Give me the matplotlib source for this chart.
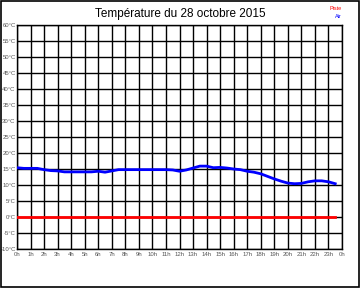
import matplotlib
matplotlib.use("Agg")
import matplotlib.pyplot as plt
import numpy as np

plt.rcParams['font.family'] = ['Liberation Sans', 'DejaVu Sans']

# heures (0 à 23h30) et températures relevées
heures = [0, 0.5, 1, 1.5, 2, 2.5, 3, 3.5, 4, 4.5, 5, 5.5, 6, 6.5, 7, 7.5,
          8, 8.5, 9, 9.5, 10, 10.5, 11, 11.5, 12, 12.5, 13, 13.5, 14, 14.5,
          15, 15.5, 16, 16.5, 17, 17.5, 18, 18.5, 19, 19.5, 20, 20.5, 21,
          21.5, 22, 22.5, 23, 23.5]
air = [15.4, 15.2, 15.2, 15.2, 14.8, 14.5, 14.4, 14.1, 14.1, 14.1, 14.1,
       14.1, 14.3, 14.0, 14.4, 14.8, 14.8, 14.8, 14.8, 14.8, 14.8, 14.8,
       14.8, 14.7, 14.3, 14.7, 15.3, 15.9, 15.9, 15.4, 15.5, 15.3, 15.0,
       14.8, 14.3, 14.0, 13.5, 12.7, 11.9, 11.2, 10.6, 10.4, 10.5, 11.0,
       11.3, 11.3, 11.0, 10.4]
piste = [0.0] * len(heures)

y_ticks = list(range(-10, 61, 5))
y_labels = [f"{v}°C" for v in y_ticks]
x_ticks = list(range(0, 25))
x_labels = [f"{h % 24}h" for h in x_ticks]

fig = plt.figure(figsize=(3.6, 2.88), dpi=100)
ax = fig.add_axes([17 / 360, 1 - 249 / 288, 325 / 360, 224 / 288])

ax.plot(heures, air, color="#0000ff", lw=2.0, zorder=3)
ax.plot(heures, piste, color="#ff0000", lw=2.0, zorder=4)

ax.set_xlim(0, 24)
ax.set_ylim(-10, 60)
ax.set_xticks(x_ticks)
ax.set_xticklabels(x_labels)
ax.set_yticks(y_ticks)
ax.set_yticklabels(y_labels)
ax.tick_params(length=0, labelsize=4.3, labelcolor="#555555", pad=1)
ax.tick_params(axis="x", pad=2.5)
ax.grid(True, color="black", lw=1.0)
ax.set_axisbelow(True)
for s in ax.spines.values():
    s.set_color("black")
    s.set_linewidth(1.0)

fig.text(0.5, 1 - 14 / 288, "Température du 28 octobre 2015",
         ha="center", va="center", fontsize=8.5)
fig.text(342 / 360, 1 - 8 / 288, "Piste", color="#ff0000",
         ha="right", va="center", fontsize=4)
fig.text(342 / 360, 1 - 16 / 288, "Air", color="#0000ff",
         ha="right", va="center", fontsize=4)

# cadre autour de l'image
fig.patches.append(plt.Rectangle((0.0015, 0.002), 0.996, 0.996,
                                 transform=fig.transFigure, fill=False,
                                 edgecolor="black", lw=1.2))

fig.savefig("out.png", dpi=100)
